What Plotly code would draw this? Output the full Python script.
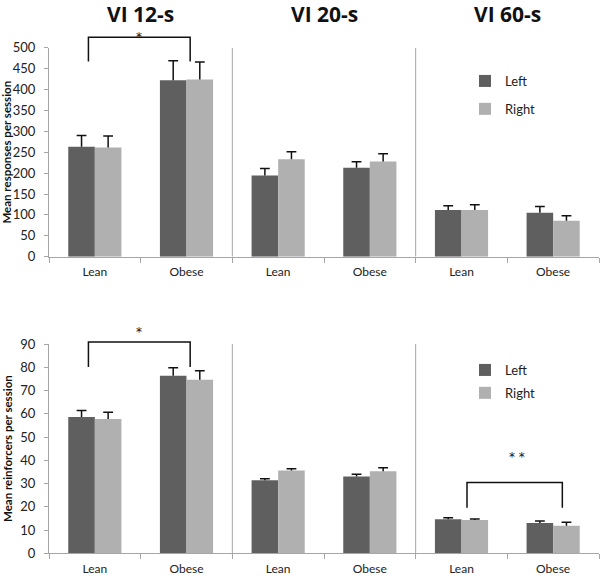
import plotly.graph_objects as go

# ---- data ----
groups = ["Lean", "Obese", "Lean", "Obese", "Lean", "Obese"]
schedules = ["VI 12-s", "VI 20-s", "VI 60-s"]

resp_left = [263, 422, 194, 213, 112, 105]
resp_left_err = [27, 47, 17, 14, 10, 15]
resp_right = [261, 424, 233, 228, 112, 86]
resp_right_err = [28, 42, 18, 18, 12, 12]

reinf_left = [58.6, 76.4, 31.4, 33.0, 14.6, 13.0]
reinf_left_err = [2.8, 3.4, 0.7, 1.0, 0.7, 0.9]
reinf_right = [57.7, 74.6, 35.6, 35.3, 14.3, 11.8]
reinf_right_err = [3.0, 3.9, 0.8, 1.5, 0.5, 1.5]

FONT = "Lato"
C_LEFT = "#5f5f5f"
C_RIGHT = "#b0b0b0"
AX = "#a6a6a6"
xs = list(range(len(groups)))

TOP_DOM = [1 - 256.7 / 576, 1 - 47.7 / 576]
BOT_DOM = [1 - 553.3 / 576, 1 - 344 / 576]
TOP_RNG = [0, 500]
BOT_RNG = [0, 90]


def to_paper(v, dom, rng):
    return dom[0] + (v - rng[0]) / (rng[1] - rng[0]) * (dom[1] - dom[0])


fig = go.Figure()


def add_series(y, err, name, color, xa, ya, legend):
    fig.add_trace(go.Bar(
        x=xs, y=y, name=name, marker=dict(color=color, line=dict(width=0)),
        error_y=dict(type="data", array=err, arrayminus=[0] * len(err), symmetric=False,
                     color="#111", thickness=1.5, width=0),
        xaxis=xa, yaxis=ya, legend=legend, showlegend=True, legendgroup=name + legend,
        offsetgroup=name,
    ))
    # error-bar caps (top only)
    fig.add_trace(go.Scatter(
        x=xs, y=[v + e for v, e in zip(y, err)], mode="markers",
        marker=dict(symbol="line-ew", size=7, line=dict(width=1.5, color="#111")),
        xaxis=xa, yaxis=ya, showlegend=False, hoverinfo="skip", offsetgroup=name,
    ))


add_series(resp_left, resp_left_err, "Left", C_LEFT, "x", "y", "legend")
add_series(resp_right, resp_right_err, "Right", C_RIGHT, "x", "y", "legend")
add_series(reinf_left, reinf_left_err, "Left", C_LEFT, "x2", "y2", "legend2")
add_series(reinf_right, reinf_right_err, "Right", C_RIGHT, "x2", "y2", "legend2")

xdom = [49 / 600, 599 / 600]
xaxis_common = dict(
    range=[-0.5, 5.5], tickvals=xs, ticktext=groups, ticks="", showgrid=False,
    zeroline=False, showline=True, linecolor=AX, linewidth=1, ticklabelstandoff=4,
    tickfont=dict(family=FONT, size=12, color="#222"),
    minor=dict(tickvals=[i - 0.5 for i in range(len(groups) + 1)], ticks="outside",
               ticklen=5, tickcolor=AX, tickwidth=1, showgrid=False),
    domain=xdom, automargin=False,
)
yaxis_common = dict(
    showgrid=False, zeroline=False, showline=True, linecolor=AX, linewidth=1,
    ticks="outside", ticklen=4, tickcolor=AX, tickwidth=1, ticklabelstandoff=6,
    tickfont=dict(family=FONT, size=13, color="#222"), automargin=False,
)

fig.update_layout(
    width=600, height=576, margin=dict(l=0, r=0, t=0, b=0),
    paper_bgcolor="white", plot_bgcolor="white",
    barmode="group", bargap=0.42, bargroupgap=0,
    scattermode="group", scattergap=0.42,
    font=dict(family=FONT, color="#222"),
    xaxis=dict(**xaxis_common, anchor="y"),
    xaxis2=dict(**xaxis_common, anchor="y2"),
    yaxis=dict(**yaxis_common, range=TOP_RNG, dtick=50, domain=TOP_DOM, anchor="x",
               title=dict(text="<b>Mean responses per session</b>",
                          font=dict(family=FONT, size=11.5, color="#111"), standoff=5)),
    yaxis2=dict(**yaxis_common, range=BOT_RNG, dtick=10, domain=BOT_DOM, anchor="x2",
                title=dict(text="<b>Mean reinforcers per session</b>",
                           font=dict(family=FONT, size=11.5, color="#111"), standoff=5)),
    legend=dict(x=0.775, y=1 - 66 / 576, xanchor="left", yanchor="top",
                bgcolor="rgba(0,0,0,0)", font=dict(family=FONT, size=13, color="#222"),
                traceorder="grouped", tracegroupgap=8, itemwidth=30),
    legend2=dict(x=0.775, y=1 - 355 / 576, xanchor="left", yanchor="top",
                 bgcolor="rgba(0,0,0,0)", font=dict(family=FONT, size=13, color="#222"),
                 traceorder="grouped", tracegroupgap=3, itemwidth=30),
)

shapes = []
# panel separators
for xr, yr, top in [("x", "y", TOP_RNG[1]), ("x2", "y2", BOT_RNG[1])]:
    for sx in (1.5, 3.5):
        shapes.append(dict(type="line", xref=xr, yref=yr, x0=sx, x1=sx, y0=0, y1=top,
                           line=dict(color=AX, width=1)))


def bracket(xr, x0, x1, ylow, ytop, dom, rng):
    p0 = to_paper(ylow, dom, rng)
    p1 = to_paper(ytop, dom, rng)
    shapes.append(dict(type="path", xref=xr, yref="paper",
                       path=f"M {x0},{p0} L {x0},{p1} L {x1},{p1} L {x1},{p0}",
                       line=dict(color="#111", width=1.5)))


bracket("x", -0.07, 1.04, 467, 525, TOP_DOM, TOP_RNG)
bracket("x2", -0.07, 1.04, 80.1, 90.9, BOT_DOM, BOT_RNG)
bracket("x2", 4.06, 5.10, 19.6, 30.4, BOT_DOM, BOT_RNG)
fig.update_layout(shapes=shapes)

ann = []
for i, s in enumerate(schedules):
    ann.append(dict(text=f"<b>{s}</b>", x=2 * i + 0.5, xref="x", y=1, yref="paper",
                    yshift=1, borderpad=0, showarrow=False,
                    font=dict(family="Open Sans", size=21, color="#111"),
                    xanchor="center", yanchor="top"))
STAR = dict(family="DejaVu Sans", size=12, color="#111")
ann.append(dict(text="*", x=0.48, xref="x", y=to_paper(548, TOP_DOM, TOP_RNG), yref="paper",
                showarrow=False, font=STAR))
ann.append(dict(text="*", x=0.48, xref="x2", y=to_paper(95.0, BOT_DOM, BOT_RNG), yref="paper",
                showarrow=False, font=STAR))
ann.append(dict(text="* *", x=4.6, xref="x2", y=to_paper(37.5, BOT_DOM, BOT_RNG), yref="paper",
                showarrow=False, font=STAR))
fig.update_layout(annotations=ann)

fig.write_html("out.html", config={"displayModeBar": False},
               post_script="document.body.style.margin='0';")
